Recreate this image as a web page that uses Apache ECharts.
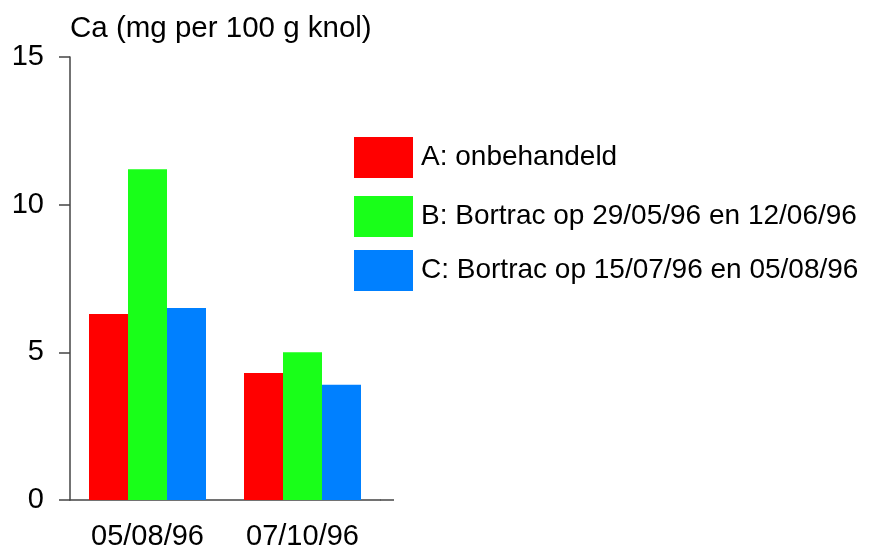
<!DOCTYPE html>
<html>
<head>
<meta charset="utf-8">
<script src="https://cdn.jsdelivr.net/npm/echarts@6/dist/echarts.min.js"></script>
<style>
  html, body { margin: 0; padding: 0; background: #fff; }
  #chart { width: 889px; height: 551px; }
</style>
</head>
<body>
<div id="chart"></div>
<script>
var categories = ['05/08/96', '07/10/96']
var seriesNames = ['A: onbehandeld', 'B: Bortrac op 29/05/96 en 12/06/96', 'C: Bortrac op 15/07/96 en 05/08/96']
var valuesA = [6.3, 4.3]
var valuesB = [11.2, 5.0]
var valuesC = [6.5, 3.9]
var yTicks = [0, 5, 10, 15]

var colors = ['#ff0000', '#19ff19', '#0080ff']
var axisColor = '#444'
var font = 'Liberation Sans, Arial, sans-serif'

var chart = echarts.init(document.getElementById('chart'))

function legendAt(name, top) {
  return {
    data: [name],
    left: 354,
    top: top,
    padding: 0,
    itemWidth: 59,
    itemHeight: 41,
    itemGap: 0,
    icon: 'rect',
    textStyle: { fontSize: 28, fontFamily: font, color: '#000', padding: [4, 0, 0, 3] },
    selectedMode: false
  }
}

var option = {
  animation: false,
  title: {
    text: 'Ca (mg per 100 g knol)',
    left: 65,
    top: 9,
    textStyle: { fontSize: 29.5, fontWeight: 'normal', fontFamily: font, color: '#000' }
  },
  legend: [
    legendAt(seriesNames[0], 137),
    legendAt(seriesNames[1], 196),
    legendAt(seriesNames[2], 250)
  ],
  grid: { left: 70, top: 57, width: 310, height: 444, containLabel: false },
  xAxis: {
    type: 'category',
    data: categories,
    axisLine: { lineStyle: { color: axisColor, width: 1.5 } },
    axisTick: { alignWithLabel: true, length: 10, lineStyle: { color: axisColor, width: 1.5 } },
    axisLabel: { fontSize: 29, fontFamily: font, color: '#000', margin: 22 }
  },
  yAxis: {
    type: 'value',
    min: yTicks[0],
    max: yTicks[yTicks.length - 1],
    interval: 5,
    splitLine: { show: false },
    axisLine: { show: true, lineStyle: { color: axisColor, width: 1.5 } },
    axisTick: { show: true, length: 11, lineStyle: { color: axisColor, width: 1.5 } },
    axisLabel: { fontSize: 29, fontFamily: font, color: '#000', margin: 26 }
  },
  series: [
    { name: seriesNames[0], type: 'bar', data: valuesA, barWidth: 39, barGap: '0%', itemStyle: { color: colors[0] } },
    { name: seriesNames[1], type: 'bar', data: valuesB, barWidth: 39, barGap: '0%', itemStyle: { color: colors[1] } },
    { name: seriesNames[2], type: 'bar', data: valuesC, barWidth: 39, barGap: '0%', itemStyle: { color: colors[2] } }
  ]
}
chart.setOption(option)

// the original x axis line runs a little past the last category
var y0 = chart.convertToPixel({ yAxisIndex: 0 }, 0)
chart.setOption({
  graphic: [{
    type: 'line',
    shape: { x1: 380, y1: y0, x2: 394, y2: y0 },
    style: { stroke: axisColor, lineWidth: 1.5 }
  }]
})
</script>
</body>
</html>
